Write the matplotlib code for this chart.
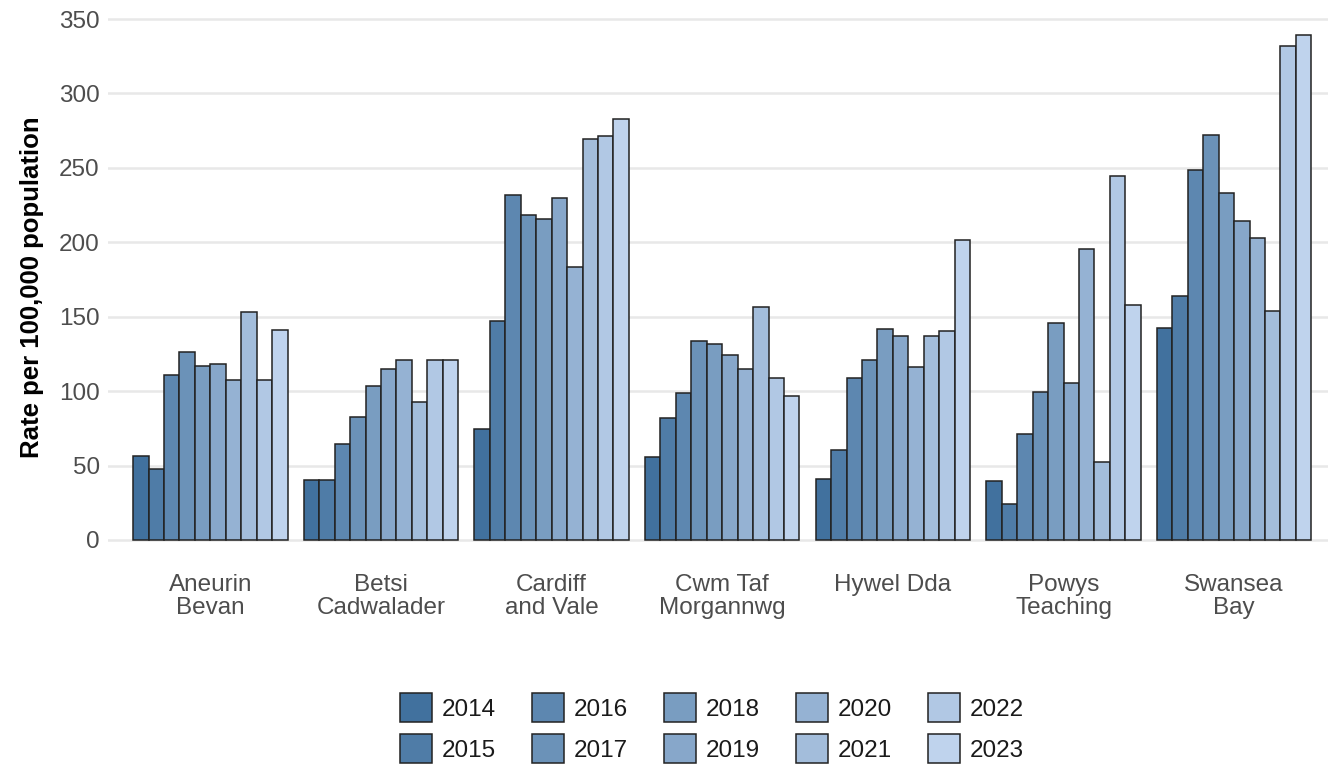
import matplotlib
matplotlib.use("Agg")
import matplotlib.pyplot as plt
import numpy as np
from matplotlib.colors import to_rgb

plt.rcParams['font.family'] = ['Liberation Sans', 'DejaVu Sans']

boards = ["Aneurin\nBevan", "Betsi\nCadwalader", "Cardiff\nand Vale", "Cwm Taf\nMorgannwg",
          "Hywel Dda", "Powys\nTeaching", "Swansea\nBay"]
years = ["2014", "2015", "2016", "2017", "2018", "2019", "2020", "2021", "2022", "2023"]

aneurin_bevan = [56.6, 47.7, 110.8, 126.0, 116.9, 118.0, 107.7, 153.4, 107.7, 140.9]
betsi_cadwalader = [40.3, 40.3, 64.3, 82.6, 103.7, 114.9, 121.1, 92.5, 121.1, 121.1]
cardiff_and_vale = [74.6, 147.1, 231.8, 218.3, 215.6, 230.0, 183.4, 269.2, 271.4, 282.8]
cwm_taf = [55.8, 81.7, 98.5, 133.7, 131.4, 124.3, 114.9, 156.3, 109.0, 96.5]
hywel_dda = [40.7, 60.3, 108.6, 120.9, 141.6, 137.0, 116.5, 137.0, 140.7, 201.4]
powys = [39.4, 23.9, 71.0, 99.7, 145.7, 105.2, 195.3, 52.1, 244.3, 158.2]
swansea_bay = [142.7, 163.9, 248.6, 272.3, 232.9, 214.0, 202.6, 154.1, 331.7, 339.2]

values = np.array([aneurin_bevan, betsi_cadwalader, cardiff_and_vale, cwm_taf,
                   hywel_dda, powys, swansea_bay])

c0 = np.array(to_rgb("#41719E"))
c1 = np.array(to_rgb("#BFD3ED"))
colors = [tuple(c0 + (c1 - c0) * i / (len(years) - 1)) for i in range(len(years))]

fig = plt.figure(figsize=(13.28, 7.65), dpi=100)
ax = fig.add_axes([108 / 1328, 1 - 565.3 / 765, 1 - 108 / 1328, (565.3 - 10.07) / 765])

n = len(years)
group_w = 0.905
bw = group_w / n
x = np.arange(len(boards))
for i, yr in enumerate(years):
    ax.bar(x - group_w / 2 + bw * (i + 0.5), values[:, i], width=bw,
           color=colors[i], edgecolor="#222222", linewidth=1.1, label=yr, zorder=3)

ax.set_xlim(-0.6, 6.55)
ax.set_ylim(-17, 356)
ax.set_yticks(range(0, 351, 50))
ax.set_xticks(x)
ax.set_xticklabels(boards, fontsize=17.5, color="#4d4d4d", linespacing=1.1)
ax.tick_params(axis='y', labelsize=17.5, labelcolor="#4d4d4d", length=0, pad=6)
ax.tick_params(axis='x', length=0, pad=6)
ax.grid(axis='y', color="#e8e8e8", linewidth=1.8, zorder=0)
ax.grid(axis='x', visible=False)
for s in ax.spines.values():
    s.set_visible(False)
ax.set_ylabel("Rate per 100,000 population", fontsize=18.5, fontweight='bold', labelpad=11)

leg = fig.legend(loc='center', bbox_to_anchor=(712 / 1328, 1 - 728 / 765), ncol=5,
                 frameon=False, fontsize=17.5, handlelength=1.32, handleheight=1.45,
                 handletextpad=0.38, columnspacing=1.5, labelspacing=0.5,
                 borderpad=0, borderaxespad=0)
for t in leg.get_texts():
    t.set_color("#1a1a1a")

fig.savefig("out.png", dpi=100)
